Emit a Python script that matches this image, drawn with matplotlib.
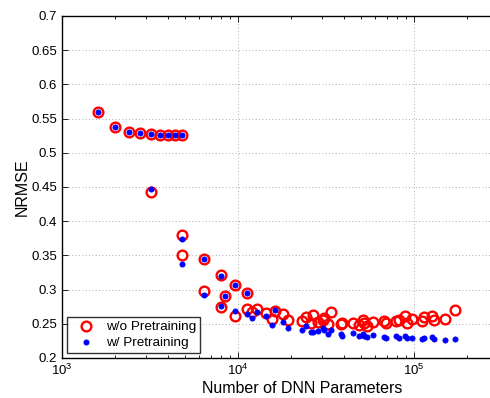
import matplotlib
matplotlib.use("Agg")
import matplotlib.pyplot as plt
from matplotlib.ticker import LogLocator, FixedLocator, NullFormatter

plt.rcParams['font.family'] = ['Liberation Sans', 'DejaVu Sans']

params = [1608, 2001, 2403, 2786, 3191, 3605, 4002, 4403, 4826,
          3203, 4806, 4806, 6411, 6411, 8036, 9578, 8404, 8036, 9578,
          11248, 11248, 12058, 12875, 14422, 15663, 16229, 18088, 19313,
          23014, 24256, 25884, 26568, 28368, 30288, 30920, 32460, 33890,
          38470, 38830, 45190, 48510, 51310, 51990, 53870, 58260, 67800,
          69050, 79030, 82510, 88900, 90890, 97410, 111040, 113640,
          126100, 130440, 150050, 170330]
nrmse_wo = [0.5596, 0.5382, 0.530, 0.5285, 0.527, 0.526, 0.5265, 0.5265, 0.5265,
            0.4423, 0.3798, 0.3506, 0.3452, 0.2984, 0.3218, 0.3072, 0.2906, 0.2746, 0.2614,
            0.2946, 0.2712, 0.2673, 0.2720, 0.2662, 0.2566, 0.2687, 0.2639, 0.2556,
            0.2545, 0.2599, 0.2507, 0.2629, 0.2522, 0.2560, 0.2589, 0.2497, 0.2673,
            0.2501, 0.2516, 0.2512, 0.2478, 0.2560, 0.2507, 0.2472, 0.2526, 0.2541,
            0.2516, 0.2537, 0.2556, 0.2618, 0.2507, 0.2566, 0.2545, 0.2595,
            0.2618, 0.2556, 0.2575, 0.2702]
nrmse_w = [0.5596, 0.5382, 0.530, 0.5285, 0.527, 0.526, 0.5265, 0.5265, 0.5265,
           0.4466, 0.3740, 0.3374, 0.3452, 0.2921, 0.3199, 0.3072, 0.2906, 0.2760, 0.2692,
           0.2946, 0.2639, 0.2585, 0.2668, 0.2610, 0.2487, 0.2702, 0.2531, 0.2443,
           0.2409, 0.2468, 0.2376, 0.2385, 0.2395, 0.2439, 0.2405, 0.2351, 0.2405,
           0.2351, 0.2326, 0.2370, 0.2322, 0.2355, 0.2322, 0.2311, 0.2336, 0.2311,
           0.2297, 0.2317, 0.2292, 0.2326, 0.2288, 0.2288, 0.2282, 0.2290,
           0.2311, 0.2278, 0.2268, 0.2282]

x_label = "Number of DNN Parameters"
y_label = "NRMSE"
legend_labels = ["w/o Pretraining", "w/ Pretraining"]
y_ticks = [0.2, 0.25, 0.3, 0.35, 0.4, 0.45, 0.5, 0.55, 0.6, 0.65, 0.7]

fig = plt.figure(figsize=(4.9, 3.98), dpi=100)
W = 480
ax = fig.add_axes([62/490, 40/398, W/490, 342/398])

ax.plot(params, nrmse_wo, linestyle='none', marker='o', markersize=7,
        markerfacecolor='none', markeredgecolor='#ff0000', markeredgewidth=1.7,
        label=legend_labels[0])
ax.plot(params, nrmse_w, linestyle='none', marker='o', markersize=3.8,
        markerfacecolor='#0000ff', markeredgecolor='#0000ff', markeredgewidth=0.5,
        label=legend_labels[1])

ax.set_xscale('log')
ax.set_xlim(1e3, 10**(3 + W/176))
ax.set_ylim(0.2, 0.7)
ax.yaxis.set_major_locator(FixedLocator(y_ticks))
ax.set_yticklabels([f"{v:g}" for v in y_ticks])
ax.xaxis.set_major_locator(LogLocator(base=10, numticks=10))
ax.xaxis.set_minor_locator(LogLocator(base=10, subs=range(2, 10), numticks=20))
ax.xaxis.set_minor_formatter(NullFormatter())

ax.tick_params(which='both', direction='in', top=True, right=True, labelsize=9.5)
ax.tick_params(which='major', length=4, width=0.6)
ax.tick_params(which='minor', length=2.5, width=0.6)
for s in ax.spines.values():
    s.set_linewidth(1.0)

ax.grid(True, which='major', linestyle=(0, (1, 3)), color='#909090', linewidth=0.6)
ax.set_axisbelow(True)

ax.set_xlabel(x_label, fontsize=11.5, labelpad=2)
ax.set_ylabel(y_label, fontsize=11.5, labelpad=1)

leg = ax.legend(loc='lower left', numpoints=1, fontsize=9.7, frameon=True,
                fancybox=False, edgecolor='black', borderaxespad=0.35,
                handletextpad=0.4, borderpad=0.3, labelspacing=0.25, handlelength=2.2)
leg.get_frame().set_linewidth(1.0)

fig.savefig("out.png", dpi=100)
